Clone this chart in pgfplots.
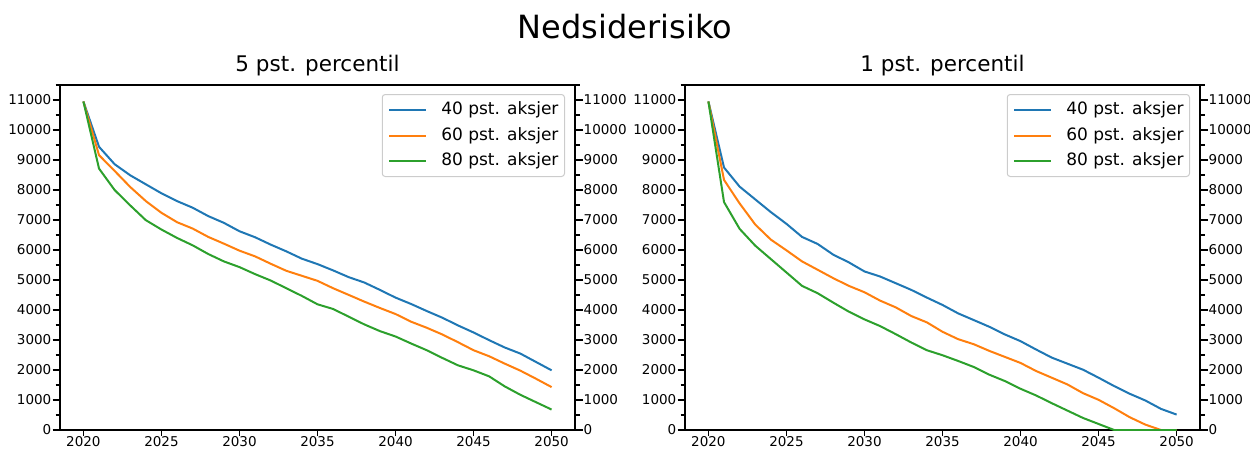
\documentclass[border=0pt]{standalone}
\usepackage{pgfplots}
\usepackage{pgfplotstable}
\pgfplotsset{compat=1.18}
\usepackage{fontspec}
\setmainfont{DejaVu Sans}
\definecolor{cb}{HTML}{1F77B4}
\definecolor{co}{HTML}{FF7F0E}
\definecolor{cg}{HTML}{2CA02C}

\pgfplotstableread{
year b o g
2020 10950 10950 10950
2021 9441 9162 8715
2022 8860 8637 8000
2023 8490 8100 7486
2024 8190 7631 6994
2025 7890 7240 6682
2026 7630 6927 6402
2027 7410 6715 6156
2028 7130 6436 5866
2029 6905 6212 5620
2030 6625 5978 5430
2031 6425 5788 5196
2032 6180 5542 4983
2033 5955 5307 4726
2034 5710 5140 4469
2035 5530 4972 4190
2036 5320 4726 4034
2037 5095 4503 3777
2038 4916 4279 3520
2039 4670 4067 3296
2040 4413 3866 3117
2041 4200 3609 2883
2042 3966 3408 2659
2043 3743 3184 2402
2044 3486 2927 2156
2045 3251 2659 1989
2046 2994 2458 1788
2047 2750 2212 1453
2048 2547 1978 1173
2049 2268 1709 927
2050 1989 1430 682
}\left

\pgfplotstableread{
year b o g
2020 10950 10950 10950
2021 8749 8335 7598
2022 8112 7553 6704
2023 7687 6849 6145
2024 7263 6346 5698
2025 6872 5989 5251
2026 6436 5620 4804
2027 6201 5341 4559
2028 5844 5061 4246
2029 5587 4804 3944
2030 5285 4592 3687
2031 5117 4313 3464
2032 4894 4089 3196
2033 4670 3799 2916
2034 4413 3587 2659
2035 4168 3274 2492
2036 3888 3028 2302
2037 3665 2860 2101
2038 3441 2637 1844
2039 3184 2436 1631
2040 2961 2235 1374
2041 2682 1966 1151
2042 2413 1743 894
2043 2212 1520 648
2044 2011 1229 402
2045 1743 1006 201
2046 1464 726 0
2047 1207 425 0
2048 983 179 0
2049 704 0 0
2050 514 0 0
}\right

\pgfplotsset{
  base/.style={
    scale only axis, width=515pt, height=345pt,
    xmin=2018.5, xmax=2051.5, ymin=0, ymax=11500,
    scaled ticks=false,
    tick align=outside,
    major tick length=7.5pt, minor tick length=4.5pt,
    every tick/.style={black, line width=1.3pt},
    axis line style={line width=1.2pt},
    ticklabel style={font=\fontsize{13.5}{16}\selectfont, inner sep=1pt},
    xticklabel style={inner sep=0pt, yshift=1pt},
    /pgf/number format/assume math mode=true,
    /pgf/number format/1000 sep={},
    ytick={0,1000,...,11000},
    minor ytick={500,1500,...,11500},
    xtick={2020,2025,...,2050},
    x tick style={/pgfplots/major tick length=6pt},
  },
  main/.style={
    base,
    xtick pos=bottom, ytick pos=left,
    title style={font=\fontsize{21.5}{24}\selectfont, inner sep=0pt, anchor=south, at={(0.5,1)}, yshift=3pt},
    legend cell align=left,
    legend image code/.code={\draw[##1, line width=2pt] (0pt,0pt) -- (37pt,0pt); \path (51pt,0pt);},
    legend style={at={(1,1)}, anchor=north east, xshift=-10pt, yshift=-9pt,
      draw=black!20, line width=1pt, rounded corners=3pt, fill=white, fill opacity=0.8, text opacity=1,
      font=\fontsize{17}{20}\selectfont, inner xsep=6pt, inner ysep=7pt, row sep=8.5pt, column sep=0pt,
      nodes={inner sep=0pt, text height=13pt, text depth=4pt}},
  },
  rightax/.style={
    base,
    axis x line=none, axis y line*=right,
    ytick pos=right, yticklabel pos=right,
  },
}

\begin{document}
\begin{tikzpicture}
\path[use as bounding box] (0,0) rectangle (1250pt,448pt);
\node[anchor=base, font=\fontsize{32}{36}\selectfont] at (625pt,409pt) {Nedsiderisiko};

\begin{axis}[main, at={(60pt,18pt)}, anchor=south west, title={5 pst. percentil}]
\addplot[cb, line width=2pt] table[x=year, y=b] {\left};
\addlegendentry{40 pst. aksjer}
\addplot[co, line width=2pt] table[x=year, y=o] {\left};
\addlegendentry{60 pst. aksjer}
\addplot[cg, line width=2pt] table[x=year, y=g] {\left};
\addlegendentry{80 pst. aksjer}
\end{axis}
\begin{axis}[rightax, at={(60pt,18pt)}, anchor=south west]
\end{axis}

\begin{axis}[main, at={(685pt,18pt)}, anchor=south west, title={1 pst. percentil}]
\addplot[cb, line width=2pt] table[x=year, y=b] {\right};
\addlegendentry{40 pst. aksjer}
\addplot[co, line width=2pt] table[x=year, y=o] {\right};
\addlegendentry{60 pst. aksjer}
\addplot[cg, line width=2pt] table[x=year, y=g] {\right};
\addlegendentry{80 pst. aksjer}
\end{axis}
\begin{axis}[rightax, at={(685pt,18pt)}, anchor=south west]
\end{axis}
\end{tikzpicture}
\end{document}
